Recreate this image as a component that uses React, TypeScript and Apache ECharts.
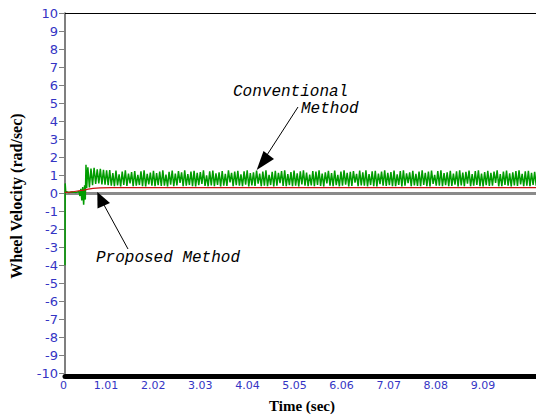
import React, { useEffect, useRef } from "react";
import * as echarts from "echarts";

// ---- Axis ticks ----
const xTickLabels = ["0", "1.01", "2.02", "3.03", "4.04", "5.05", "6.06", "7.07", "8.08", "9.09"];
const xInterval = 1.01;
const xMax = 10.1;
const yMin = -10;
const yMax = 10;

// ---- Proposed method (red) ----
const propTimes = [0, 0.1, 0.2, 0.3, 0.4, 0.5, 0.6, 0.75, 1.0, 1.5, 2.0, 3.0, 4.0, 5.0, 6.0, 7.0, 8.0, 9.0, 10.1];
const propValues = [0.05, 0.07, 0.1, 0.14, 0.18, 0.23, 0.27, 0.3, 0.31, 0.32, 0.31, 0.32, 0.32, 0.31, 0.32, 0.32, 0.31, 0.32, 0.32];

// ---- Conventional method (green): start-up transient ----
const convTransientTimes = [0, 0.004, 0.015, 0.08, 0.16, 0.24, 0.3, 0.32, 0.34, 0.36, 0.38, 0.4, 0.42, 0.435, 0.45, 0.465];
const convTransientValues = [-4, 0.55, 0.1, 0.04, 0.07, 0.05, 0.1, -0.15, 0.25, -0.4, 0.35, -0.64, 0.45, -0.35, 1.58, 0.3];

// ---- Conventional method (green): sustained oscillation, one peak + one trough per cycle ----
const convCycleStart = 0.49;
const convCyclePeriod = 0.067;
const convPeaks = [
  1.45, 1.38, 1.42, 1.33, 1.36, 1.3, 1.27, 1.29,
  1.12, 1.26, 1.05, 1.2, 1.27, 1.1, 1.18, 1.24, 1.02, 1.22, 1.27, 1.08, 1.15, 1.25, 1.12, 1.2,
  1.27, 1.04, 1.19, 1.26, 1.1, 1.23, 1.16, 1.27, 1.06, 1.21, 1.25, 1.13, 1.18, 1.27, 1.0, 1.22,
  1.26, 1.11, 1.17, 1.24, 1.08, 1.27, 1.14, 1.2, 1.25, 1.05, 1.22, 1.27, 1.12, 1.16, 1.26, 1.09,
  1.21, 1.27, 1.03, 1.19, 1.25, 1.13, 1.23, 1.27, 1.07, 1.18, 1.26, 1.11, 1.22, 1.27, 1.15, 1.04,
  1.24, 1.2, 1.27, 1.09, 1.17, 1.25, 1.12, 1.26, 1.02, 1.21, 1.27, 1.14, 1.19, 1.24, 1.08, 1.26,
  1.16, 1.27, 1.06, 1.22, 1.25, 1.1, 1.2, 1.27, 1.13, 1.18, 1.26, 1.05, 1.23, 1.27, 1.11, 1.17,
  1.25, 1.08, 1.21, 1.27, 1.14, 1.2, 1.26, 1.03, 1.24, 1.27, 1.12, 1.16, 1.25, 1.09, 1.22, 1.27,
  1.15, 1.19, 1.26, 1.07, 1.23, 1.27, 1.1, 1.18, 1.25, 1.13, 1.21, 1.27, 1.06, 1.2, 1.26, 1.11,
  1.17, 1.24, 1.27, 1.08, 1.22, 1.25, 1.14, 1.19,
];
const convTroughs = [
  0.32, 0.45, 0.52, 0.55, 0.5, 0.48, 0.45, 0.42,
  0.4, 0.44, 0.38, 0.47, 0.41, 0.55, 0.39, 0.43, 0.46, 0.4, 0.38, 0.5, 0.42, 0.39, 0.45, 0.41,
  0.43, 0.38, 0.48, 0.4, 0.44, 0.58, 0.39, 0.42, 0.46, 0.4, 0.38, 0.45, 0.52, 0.41, 0.39, 0.44,
  0.4, 0.47, 0.38, 0.43, 0.41, 0.6, 0.39, 0.45, 0.42, 0.4, 0.48, 0.38, 0.44, 0.41, 0.53, 0.39,
  0.43, 0.4, 0.46, 0.38, 0.42, 0.56, 0.41, 0.39, 0.45, 0.4, 0.43, 0.38, 0.49, 0.42, 0.4, 0.44,
  0.39, 0.47, 0.41, 0.38, 0.55, 0.43, 0.4, 0.45, 0.39, 0.42, 0.48, 0.38, 0.41, 0.59, 0.4, 0.44,
  0.42, 0.39, 0.46, 0.4, 0.38, 0.51, 0.43, 0.41, 0.45, 0.39, 0.4, 0.47, 0.38, 0.42, 0.57, 0.4,
  0.44, 0.41, 0.39, 0.46, 0.4, 0.38, 0.52, 0.42, 0.43, 0.39, 0.45, 0.4, 0.41, 0.48, 0.38, 0.44,
  0.4, 0.54, 0.39, 0.42, 0.46, 0.4, 0.38, 0.45, 0.41, 0.43, 0.58, 0.39, 0.4, 0.47, 0.42, 0.38,
  0.44, 0.41, 0.5, 0.39, 0.43, 0.4, 0.46, 0.42,
];

const BLUE = "#3434c4";
const MONO = "'Liberation Mono', 'DejaVu Sans Mono', monospace";
const SERIF = "'Liberation Serif', 'DejaVu Serif', serif";

export default function App() {
  const ref = useRef<HTMLDivElement>(null);

  useEffect(() => {
    if (!ref.current) return;
    const chart = echarts.init(ref.current, undefined, { renderer: "svg" });

    const propData = propTimes.map((t, i) => [t, propValues[i]]);
    const convData: number[][] = convTransientTimes.map((t, i) => [t, convTransientValues[i]]);
    const n = Math.min(convPeaks.length, convTroughs.length);
    for (let i = 0; i < n; i++) {
      const t = convCycleStart + i * convCyclePeriod;
      convData.push([t, convPeaks[i]]);
      convData.push([t + convCyclePeriod / 2, convTroughs[i]]);
    }

    const option: any = {
      animation: false,
      backgroundColor: "#ffffff",
      grid: { left: 65, right: -12, top: 13.3, bottom: 41.7, containLabel: false },
      xAxis: [
        {
          type: "value",
          min: 0,
          max: xMax,
          interval: xInterval,
          position: "bottom",
          offset: 3,
          axisLine: { show: true, onZero: false, lineStyle: { color: "#000000", width: 5 } },
          axisTick: { show: false },
          splitLine: { show: false },
          axisLabel: {
            margin: 4,
            showMaxLabel: false,
            formatter: (v: number) => {
              const idx = Math.round(v / xInterval);
              const s = xTickLabels[idx];
              if (s === undefined) return "";
              return idx === 0 ? `{z|${s}}` : `{a|${s}}`;
            },
            rich: {
              z: { color: BLUE, fontSize: 11, fontFamily: "'DejaVu Sans', sans-serif", padding: [0, 3, 0, 0] },
              a: { color: BLUE, fontSize: 11, fontFamily: "'DejaVu Sans', sans-serif", padding: [0, 12, 0, 0] },
            },
          },
        },
        {
          type: "value",
          min: 0,
          max: xMax,
          position: "top",
          axisLine: { show: true, onZero: false, lineStyle: { color: "#000000", width: 1 } },
          axisTick: { show: false },
          axisLabel: { show: false },
          splitLine: { show: false },
        },
      ],
      yAxis: {
        type: "value",
        min: yMin,
        max: yMax,
        interval: 1,
        axisLine: { show: true, onZero: false, lineStyle: { color: "#7f7f7f", width: 2 } },
        axisTick: { show: true, length: 6, lineStyle: { color: "#7f7f7f", width: 1 } },
        splitLine: { show: false },
        axisLabel: {
          color: BLUE,
          fontSize: 13,
          fontFamily: "'DejaVu Sans', sans-serif",
          margin: 7,
        },
      },
      series: [
        {
          type: "line",
          name: "Conventional Method",
          data: convData,
          showSymbol: false,
          symbol: "none",
          lineStyle: { color: "#009c00", width: 1.5 },
          z: 3,
          markLine: {
            silent: true,
            symbol: "none",
            label: { show: false },
            lineStyle: { color: "#8a8a8a", width: 3, type: "solid" },
            data: [{ yAxis: 0 }],
            z: 1,
          },
        },
        {
          type: "line",
          name: "Proposed Method",
          data: propData,
          showSymbol: false,
          symbol: "none",
          lineStyle: { color: "#cc1010", width: 1.2 },
          z: 4,
        },
      ],
      graphic: [
        {
          type: "text",
          x: 16,
          y: 196,
          rotation: Math.PI / 2,
          style: {
            text: "Wheel Velocity (rad/sec)",
            fontFamily: SERIF,
            fontWeight: "bold",
            fontSize: 16,
            fill: "#000",
            align: "center",
            verticalAlign: "middle",
          },
        },
        {
          type: "text",
          x: 302,
          y: 406,
          style: {
            text: "Time (sec)",
            fontFamily: SERIF,
            fontWeight: "bold",
            fontSize: 15,
            fill: "#000",
            align: "center",
            verticalAlign: "middle",
          },
        },
        {
          type: "text",
          x: 233,
          y: 92,
          style: { text: "Conventional", fontFamily: MONO, fontStyle: "italic", fontSize: 16, fill: "#000", align: "left", verticalAlign: "middle" },
        },
        {
          type: "text",
          x: 301,
          y: 109,
          style: { text: "Method", fontFamily: MONO, fontStyle: "italic", fontSize: 16, fill: "#000", align: "left", verticalAlign: "middle" },
        },
        {
          type: "text",
          x: 96,
          y: 258,
          style: { text: "Proposed Method", fontFamily: MONO, fontStyle: "italic", fontSize: 16, fill: "#000", align: "left", verticalAlign: "middle" },
        },
        {
          type: "line",
          shape: { x1: 298, y1: 107, x2: 267, y2: 155 },
          style: { stroke: "#000", lineWidth: 1 },
          z: 10,
        },
        {
          type: "polygon",
          shape: { points: [[256.7, 170], [263.5, 151], [274, 159]] },
          style: { fill: "#000" },
          z: 10,
        },
        {
          type: "line",
          shape: { x1: 128, y1: 249, x2: 104, y2: 205 },
          style: { stroke: "#000", lineWidth: 1 },
          z: 10,
        },
        {
          type: "polygon",
          shape: { points: [[97.3, 192], [97.5, 208.5], [110, 203]] },
          style: { fill: "#000" },
          z: 10,
        },
      ],
    };

    chart.setOption(option);
    return () => chart.dispose();
  }, []);

  return (
    <div
      ref={ref}
      style={{ position: "fixed", left: 0, top: 0, width: 536, height: 415, background: "#fff" }}
    />
  );
}
